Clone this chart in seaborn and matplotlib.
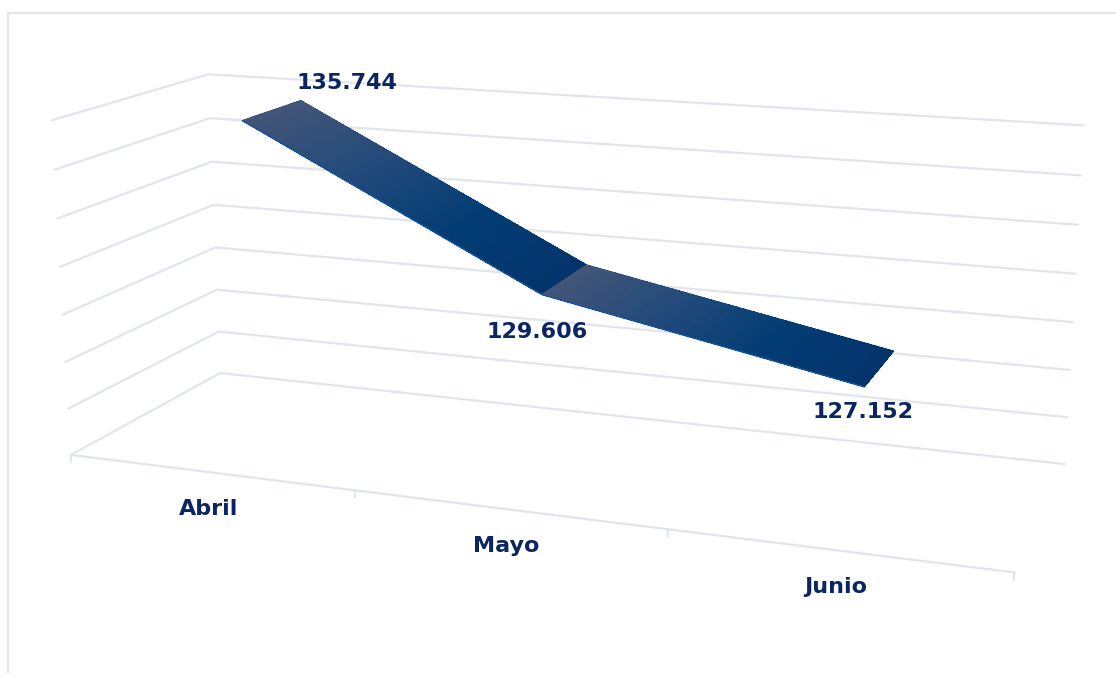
import numpy as np
import matplotlib
matplotlib.use("Agg")
import matplotlib.pyplot as plt
from matplotlib.lines import Line2D
import seaborn as sns
from mpl_toolkits.mplot3d import proj3d

months = ["Abril", "Mayo", "Junio"]
values = [135744, 129606, 127152]
value_labels = ["135.744", "129.606", "127.152"]
z_ticks = [122000, 124000, 126000, 128000, 130000, 132000, 134000, 136000]

sns.set_theme(style="white")
plt.rcParams["font.family"] = "DejaVu Sans"

GRID = "#e1e5ec"
TEXT = "#0b2563"
W, H = 1116, 673

fig = plt.figure(figsize=(W / 100, H / 100), dpi=100, facecolor="white")
ax = fig.add_subplot(projection="3d", computed_zorder=False)
ax.set_axis_off()
ax.set_xlim(0, len(months))
ax.set_ylim(0, 1)
ax.set_zlim(z_ticks[0], z_ticks[-1])

# camera, fitted against the reference
ax.view_init(elev=14.3008, azim=-69.9805, roll=0.0215)
ax.set_proj_type("persp", focal_length=0.3997)
ax.set_box_aspect((2.7695, 0.9158, 1))

# place the axes so the projection lands where it does in the reference
scale, off_x, off_y = 5619.414, 564.408, 378.639
inv = ax.transLimits.inverted()
(x0, y0), (x1, y1) = inv.transform((0, 0)), inv.transform((1, 1))
side = scale * (x1 - x0)
ax.set_position([(off_x + scale * x0) / W, (off_y + scale * y0) / H, side / W, side / H])

# walls and floor
for z in z_ticks:
    ax.plot([0, 0, len(months)], [0, 1, 1], [z, z, z], color=GRID, lw=1.6, zorder=1,
            solid_joinstyle="miter", clip_on=False)
ax.plot([0, len(months)], [0, 0], [z_ticks[0], z_ticks[0]], color=GRID, lw=1.6, zorder=1, clip_on=False)
for i in range(len(months) + 1):
    ax.plot([i, i], [0, 0], [z_ticks[0], z_ticks[0] - 300], color=GRID, lw=1.5, zorder=1, clip_on=False)

# the ribbon, one shaded strip per month to month step
depth = np.array([0.2995, 0.7103])
centers = np.arange(len(months)) + 0.5
steps = 40
shades = np.array(sns.blend_palette(["#415578", "#224a7b", "#033c74", "#03346b"], n_colors=steps + 1))
for i in range(len(months) - 1):
    t = np.linspace(0, 1, steps + 1)
    xs = centers[i] + t * (centers[i + 1] - centers[i])
    zs = values[i] + t * (values[i + 1] - values[i])
    X = np.vstack([xs, xs])
    Y = np.vstack([np.full_like(xs, depth[0]), np.full_like(xs, depth[1])])
    Z = np.vstack([zs, zs])
    ax.plot_surface(X, Y, Z, facecolors=np.stack([shades, shades]), rstride=1, cstride=1,
                    shade=False, linewidth=0, antialiased=False, zorder=3)
    # smooth the far edge, the near edge gets its own line below
    for k in range(steps):
        ax.plot(xs[k:k + 2], [depth[1]] * 2, zs[k:k + 2], color=shades[k], lw=0.9, zorder=3)
ax.plot([centers[0]] * 2, depth, [values[0]] * 2, color=shades[0], lw=0.9, zorder=3)
ax.plot([centers[1]] * 2, depth, [values[1]] * 2, color=shades[0], lw=0.7, zorder=3)
ax.plot([centers[2]] * 2, depth, [values[2]] * 2, color=shades[-1], lw=0.9, zorder=3)
ax.plot(centers, [depth[0]] * len(months), values, color="#14549c", lw=1.0, zorder=4)

fig.add_artist(Line2D([8 / W, 1], [1 - 13 / H, 1 - 13 / H], color=GRID, lw=1.5))
fig.add_artist(Line2D([8 / W, 8 / W], [0, 1 - 13 / H], color=GRID, lw=1.5))

# labels, anchored on the projected data
M = ax.get_proj()
label_offsets = [(75, 27), (-28, -52.5), (-16, -43)]
for c, v, txt, off in zip(centers, values, value_labels, label_offsets):
    px, py, _ = proj3d.proj_transform(c, depth.mean(), v, M)
    ax.annotate(txt, (px, py), xycoords="data", xytext=off, textcoords="offset pixels",
                ha="center", va="center", color=TEXT, fontsize=16, fontweight="bold",
                annotation_clip=False, zorder=5)
for c, name in zip(centers, months):
    px, py, _ = proj3d.proj_transform(c, 0, z_ticks[0], M)
    ax.annotate(name, (px, py), xycoords="data", xytext=(-1, -37), textcoords="offset pixels",
                ha="center", va="center", color=TEXT, fontsize=16, fontweight="bold",
                annotation_clip=False, zorder=5)

fig.savefig("out.png", dpi=100)
